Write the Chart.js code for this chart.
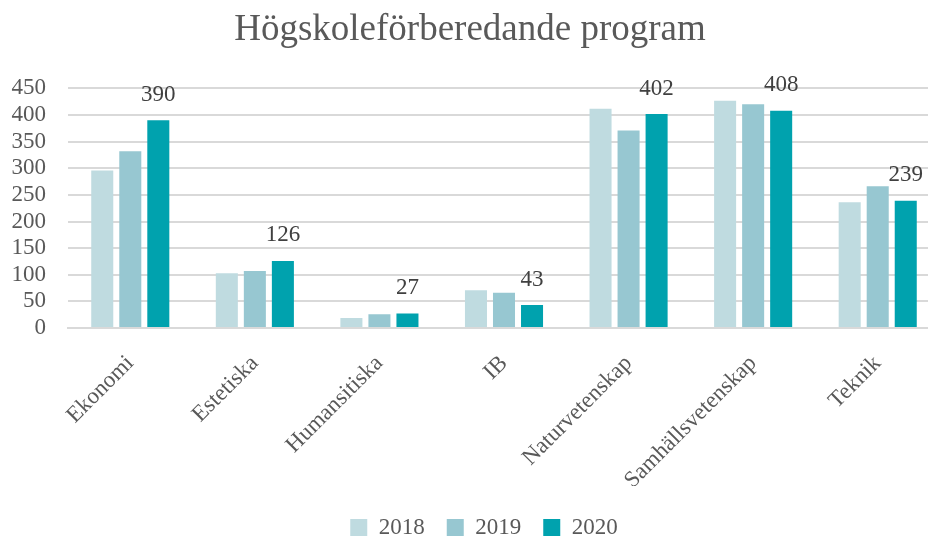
<!DOCTYPE html>
<html>
<head>
<meta charset="utf-8">
<script src="https://cdn.jsdelivr.net/npm/chart.js@4"></script>
<style>
  html, body { margin: 0; padding: 0; background: #fff; overflow: hidden; }
  #wrap { width: 940px; height: 541px; position: relative; }
</style>
</head>
<body>
<div id="wrap"><canvas id="chart"></canvas></div>
<script>
const kategorier = ["Ekonomi", "Estetiska", "Humansitiska", "IB", "Naturvetenskap", "Samhällsvetenskap", "Teknik"];
const ar2018 = [296, 103, 19, 71, 412, 427, 236];
const ar2019 = [332, 107, 26, 66, 371, 420, 266];
const ar2020 = [390, 126, 27, 43, 402, 408, 239];
const yTicks = [0, 50, 100, 150, 200, 250, 300, 350, 400, 450];

const grey = "#595959";
const serif = "'Liberation Serif', 'Times New Roman', serif";

// draws the value above each bar of the last series only
const valueLabels = {
  id: "valueLabels",
  afterLayout(chart) {
    // nudge legend to where it sits in the original
    const lg = chart.legend;
    lg.left += 14; lg.right += 14;
    lg.top += 8; lg.bottom += 8;
  },
  afterDatasetsDraw(chart) {
    const ctx = chart.ctx;
    const idx = chart.data.datasets.length - 1;
    const meta = chart.getDatasetMeta(idx);
    ctx.save();
    ctx.font = "23px " + serif;
    ctx.fillStyle = "#404040";
    ctx.textAlign = "center";
    ctx.textBaseline = "bottom";
    meta.data.forEach((bar, i) => {
      ctx.fillText(chart.data.datasets[idx].data[i], bar.x, bar.y - 14);
    });
    ctx.restore();
  }
};

new Chart(document.getElementById("chart").getContext("2d"), {
  type: "bar",
  data: {
    labels: kategorier,
    datasets: [
      { label: "2018", data: ar2018, backgroundColor: "#BFDBE0" },
      { label: "2019", data: ar2019, backgroundColor: "#97C7D1" },
      { label: "2020", data: ar2020, backgroundColor: "#00A2AE" }
    ]
  },
  options: {
    responsive: true,
    maintainAspectRatio: false,
    animation: false,
    categoryPercentage: 0.675,
    barPercentage: 0.786,
    layout: { padding: 0 },
    plugins: {
      title: {
        display: true,
        text: "Högskoleförberedande program",
        color: grey,
        font: { family: serif, size: 37, weight: "normal" },
        padding: { top: 8, bottom: 36 }
      },
      legend: {
        position: "bottom",
        labels: {
          color: grey,
          font: { family: serif, size: 23 },
          boxWidth: 17,
          boxHeight: 17,
          padding: 22
        }
      },
      tooltip: { enabled: false }
    },
    scales: {
      x: {
        grid: { display: false },
        border: { color: "#d9d9d9", width: 2 },
        ticks: {
          color: grey,
          font: { family: serif, size: 23 },
          minRotation: 45,
          maxRotation: 45,
          padding: 14
        },
        afterFit: (axis) => {
          axis.paddingLeft = 0;
          axis.paddingRight = 0;
          axis.height = 158;
        }
      },
      y: {
        min: 0,
        max: 450,
        afterBuildTicks: (axis) => { axis.ticks = yTicks.map(v => ({ value: v })); },
        afterFit: (axis) => { axis.width = 68; },
        grid: { color: "#d9d9d9", lineWidth: 2, drawTicks: false },
        border: { display: false },
        ticks: {
          color: grey,
          font: { family: serif, size: 23 },
          autoSkip: false,
          padding: 22
        }
      }
    }
  },
  plugins: [valueLabels]
});
</script>
</body>
</html>
